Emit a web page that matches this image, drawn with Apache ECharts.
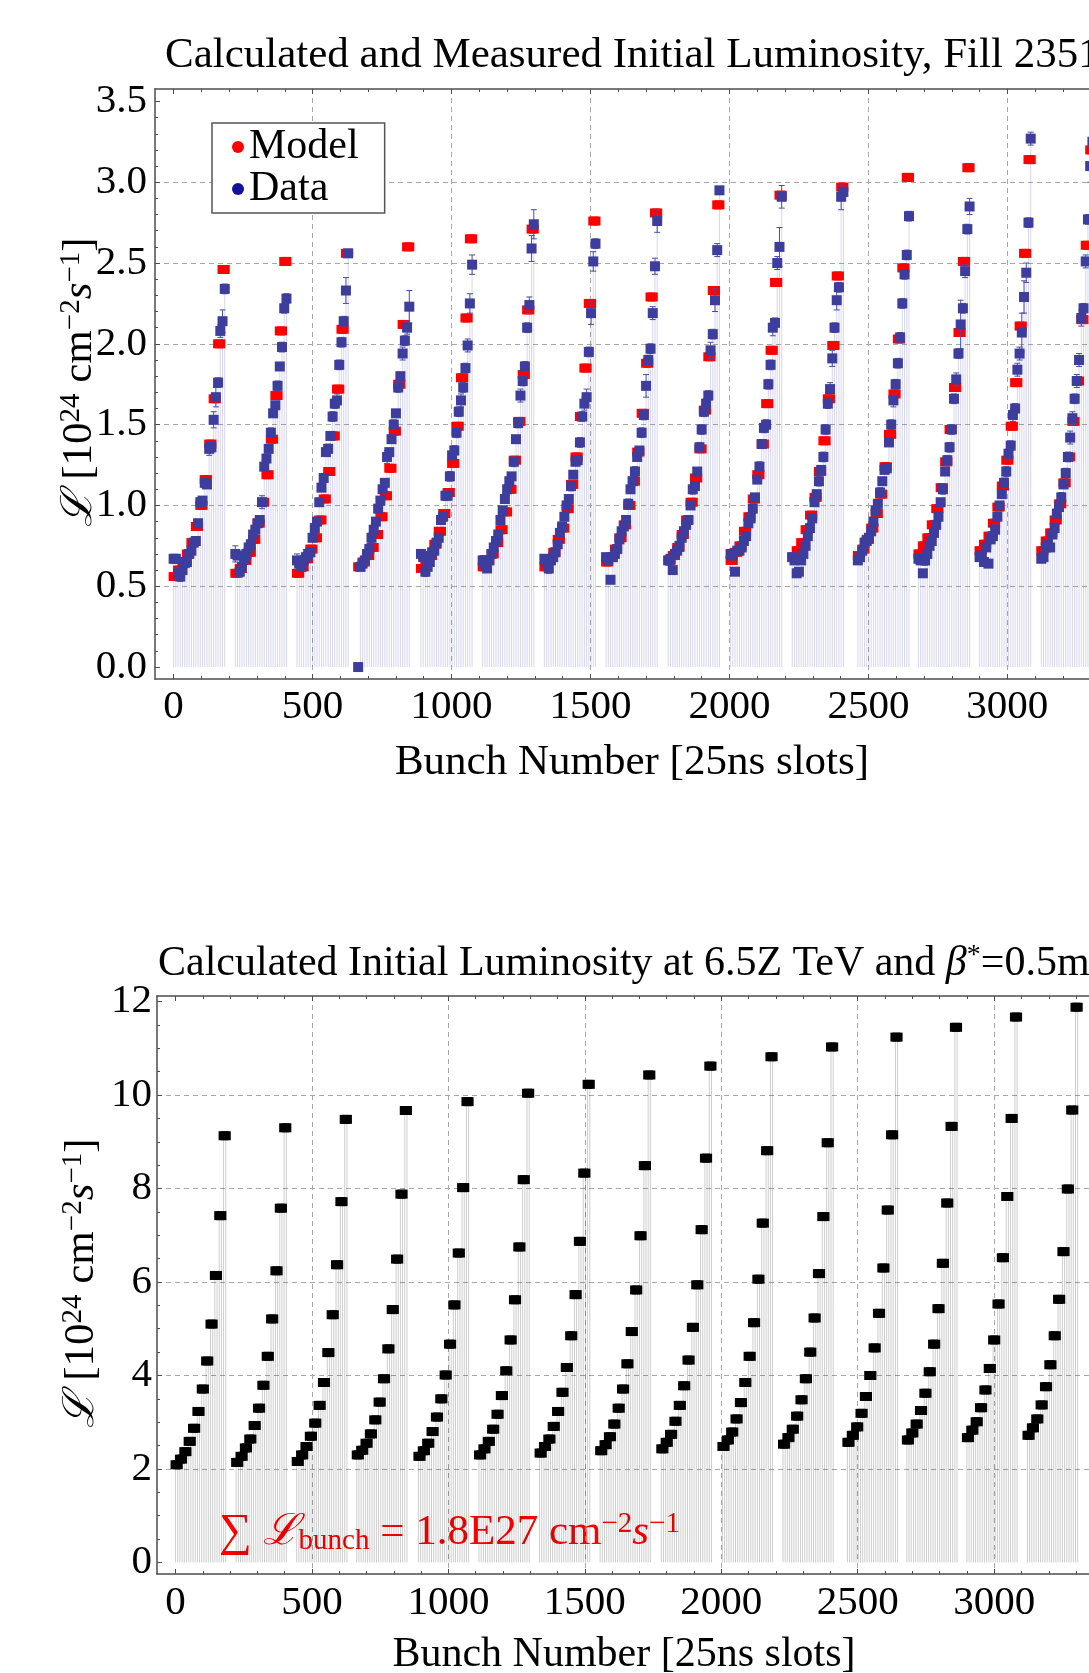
<!DOCTYPE html>
<html>
<head>
<meta charset="utf-8">
<script src="https://cdn.jsdelivr.net/npm/echarts@6/dist/echarts.min.js"></script>
<style>
  html, body { margin: 0; padding: 0; background: #fff; }
  #chart { width: 1089px; height: 1673px; }
</style>
</head>
<body>
<div id="chart"></div>
<script>
// bunch trains: first slot of each train, 24 bunches per train, 8 slots (200 ns) apart
var trainStart = [0, 222, 444, 664, 890, 1112, 1334, 1556, 1780, 2004, 2226, 2462, 2680, 2900, 3122];
var bunchStep = 8;
var bunchesPerTrain = 24;

// Fill 2351 model, one value per pair of bunches [1e24 cm^-2 s^-1]
var modelPairs = [
  [0.56, 0.60, 0.64, 0.70, 0.77, 0.87, 1.00, 1.16, 1.38, 1.66, 2.00, 2.46],
  [0.58, 0.61, 0.66, 0.71, 0.79, 0.89, 1.02, 1.19, 1.41, 1.68, 2.08, 2.51],
  [0.58, 0.62, 0.67, 0.73, 0.80, 0.91, 1.04, 1.21, 1.43, 1.72, 2.09, 2.56],
  [0.62, 0.65, 0.69, 0.74, 0.82, 0.93, 1.06, 1.23, 1.46, 1.75, 2.12, 2.60],
  [0.61, 0.65, 0.69, 0.76, 0.84, 0.95, 1.08, 1.26, 1.49, 1.79, 2.16, 2.65],
  [0.62, 0.66, 0.70, 0.77, 0.85, 0.96, 1.10, 1.28, 1.52, 1.81, 2.21, 2.71],
  [0.62, 0.67, 0.71, 0.79, 0.86, 0.98, 1.13, 1.30, 1.55, 1.85, 2.25, 2.76],
  [0.65, 0.68, 0.73, 0.80, 0.88, 1.00, 1.15, 1.33, 1.57, 1.88, 2.29, 2.81],
  [0.66, 0.69, 0.74, 0.82, 0.91, 1.02, 1.17, 1.35, 1.59, 1.92, 2.33, 2.86],
  [0.66, 0.71, 0.75, 0.84, 0.93, 1.04, 1.19, 1.38, 1.63, 1.96, 2.38, 2.92],
  [0.68, 0.72, 0.77, 0.85, 0.94, 1.05, 1.21, 1.40, 1.66, 1.99, 2.42, 2.97],
  [0.69, 0.73, 0.79, 0.86, 0.95, 1.07, 1.24, 1.44, 1.69, 2.03, 2.47, 3.03],
  [0.70, 0.75, 0.80, 0.88, 0.98, 1.11, 1.27, 1.47, 1.73, 2.07, 2.51, 3.09],
  [0.72, 0.76, 0.81, 0.89, 0.99, 1.12, 1.28, 1.49, 1.76, 2.11, 2.56, 3.14],
  [0.72, 0.78, 0.83, 0.91, 1.01, 1.14, 1.30, 1.52, 1.77, 2.15, 2.61, 3.20]
];

// Fill 2351 measured, one value per bunch
var dataBunch = [
  [0.67, 0.67, 0.58, 0.56, 0.60, 0.65, 0.65, 0.70, 0.72, 0.77, 0.78, 0.89, 1.02, 1.03, 1.14, 1.13, 1.35, 1.36, 1.53, 1.67, 1.76, 2.08, 2.14, 2.34],
  [0.70, 0.69, 0.59, 0.62, 0.67, 0.70, 0.74, 0.76, 0.82, 0.85, 0.89, 0.91, 1.02, 1.24, 1.29, 1.35, 1.45, 1.57, 1.62, 1.74, 1.86, 1.98, 2.22, 2.28],
  [0.66, 0.64, 0.62, 0.66, 0.68, 0.70, 0.71, 0.80, 0.86, 0.90, 1.02, 1.11, 1.17, 1.33, 1.35, 1.43, 1.55, 1.63, 1.65, 1.87, 2.01, 2.14, 2.33, 2.56],
  [0.00, 0.62, 0.64, 0.66, 0.70, 0.73, 0.80, 0.85, 0.90, 0.98, 1.03, 1.10, 1.14, 1.30, 1.33, 1.41, 1.50, 1.57, 1.73, 1.80, 1.94, 2.02, 2.10, 2.23],
  [0.70, 0.68, 0.59, 0.62, 0.65, 0.71, 0.72, 0.77, 0.80, 0.91, 0.93, 1.06, 1.06, 1.18, 1.31, 1.34, 1.45, 1.58, 1.65, 1.73, 1.85, 1.99, 2.25, 2.49],
  [0.66, 0.64, 0.61, 0.66, 0.70, 0.74, 0.78, 0.82, 0.91, 0.97, 1.04, 1.10, 1.15, 1.18, 1.27, 1.41, 1.51, 1.68, 1.77, 1.86, 2.10, 2.24, 2.59, 2.74],
  [0.67, 0.65, 0.61, 0.66, 0.68, 0.71, 0.76, 0.83, 0.87, 0.93, 1.00, 1.04, 1.12, 1.19, 1.27, 1.28, 1.39, 1.55, 1.63, 1.67, 1.95, 2.19, 2.51, 2.62],
  [0.68, 0.66, 0.54, 0.68, 0.70, 0.73, 0.79, 0.84, 0.87, 0.91, 1.01, 1.10, 1.15, 1.21, 1.30, 1.34, 1.45, 1.56, 1.74, 1.90, 1.97, 2.19, 2.48, 2.76],
  [0.66, 0.67, 0.60, 0.70, 0.72, 0.75, 0.80, 0.84, 0.88, 0.91, 1.00, 1.10, 1.12, 1.21, 1.36, 1.47, 1.58, 1.63, 1.68, 1.96, 2.06, 2.27, 2.58, 2.95],
  [0.70, 0.69, 0.59, 0.72, 0.72, 0.74, 0.78, 0.81, 0.89, 0.92, 0.98, 1.05, 1.16, 1.24, 1.38, 1.48, 1.50, 1.75, 1.87, 2.10, 2.13, 2.50, 2.60, 2.91],
  [0.68, 0.66, 0.58, 0.59, 0.66, 0.70, 0.75, 0.81, 0.86, 0.92, 1.02, 1.07, 1.15, 1.22, 1.30, 1.47, 1.63, 1.72, 1.91, 2.10, 2.27, 2.35, 2.91, 2.94],
  [0.66, 0.68, 0.72, 0.77, 0.78, 0.80, 0.84, 0.90, 0.97, 1.01, 1.08, 1.15, 1.22, 1.23, 1.39, 1.50, 1.65, 1.75, 1.88, 2.04, 2.25, 2.43, 2.55, 2.79],
  [0.67, 0.66, 0.58, 0.66, 0.70, 0.75, 0.78, 0.83, 0.88, 0.93, 1.02, 1.10, 1.21, 1.28, 1.36, 1.47, 1.66, 1.78, 1.94, 2.12, 2.22, 2.45, 2.71, 2.85],
  [0.68, 0.69, 0.65, 0.74, 0.64, 0.79, 0.81, 0.85, 0.93, 1.00, 1.07, 1.14, 1.21, 1.32, 1.37, 1.56, 1.60, 1.84, 1.94, 2.07, 2.29, 2.44, 2.75, 3.27],
  [0.67, 0.68, 0.74, 0.76, 0.74, 0.82, 0.86, 0.95, 0.99, 1.05, 1.13, 1.20, 1.30, 1.42, 1.54, 1.66, 1.77, 1.90, 2.16, 2.22, 2.51, 2.77, 3.10, 3.25]
];

// half-length of the measurement error bars
var dataErr = [
  [.02, .02, .02, .03, .02, .02, .02, .02, .02, .02, .02, .02, .02, .02, .03, .02, .04, .03, .05, .06, .03, .04, .07, .03],
  [.05, .02, .03, .02, .02, .02, .02, .02, .02, .02, .02, .02, .04, .02, .02, .02, .03, .02, .02, .03, .02, .03, .03, .03],
  [.04, .02, .02, .02, .02, .02, .02, .02, .03, .02, .02, .02, .02, .02, .03, .02, .03, .03, .04, .03, .03, .03, .08, .02],
  [0, .02, .02, .02, .02, .02, .03, .02, .02, .02, .02, .02, .02, .04, .02, .02, .03, .02, .03, .02, .04, .03, .04, .10],
  [.02, .02, .03, .02, .02, .02, .02, .02, .02, .02, .02, .03, .02, .03, .02, .03, .03, .03, .04, .03, .03, .04, .06, .06],
  [.03, .02, .02, .02, .02, .02, .02, .02, .02, .02, .02, .03, .02, .02, .03, .02, .03, .04, .03, .03, .03, .05, .08, .09],
  [.02, .02, .03, .02, .02, .02, .02, .02, .02, .02, .02, .02, .03, .02, .02, .02, .03, .03, .04, .05, .03, .07, .06, .03],
  [.02, .02, .02, .02, .02, .02, .02, .02, .02, .02, .03, .02, .02, .03, .02, .02, .03, .03, .07, .03, .03, .04, .05, .07],
  [.03, .02, .02, .02, .02, .02, .02, .02, .02, .02, .02, .03, .02, .02, .03, .03, .03, .03, .03, .05, .03, .07, .04, .02],
  [.02, .02, .02, .02, .02, .02, .02, .02, .02, .02, .03, .02, .02, .03, .02, .03, .03, .03, .03, .05, .03, .04, .12, .07],
  [.02, .02, .02, .02, .02, .02, .02, .02, .03, .02, .02, .02, .03, .02, .03, .03, .03, .04, .05, .03, .06, .03, .08, .03],
  [.02, .02, .02, .02, .02, .02, .02, .02, .02, .02, .03, .02, .02, .03, .02, .03, .04, .03, .03, .03, .03, .03, .03, .03],
  [.02, .02, .02, .03, .02, .02, .02, .02, .02, .02, .02, .03, .02, .03, .03, .03, .03, .04, .03, .15, .03, .04, .03, .05],
  [.02, .02, .02, .02, .02, .02, .02, .03, .02, .02, .02, .03, .03, .03, .03, .04, .03, .04, .04, .12, .10, .06, .03, .04],
  [.02, .02, .02, .03, .02, .02, .03, .02, .02, .03, .02, .03, .03, .04, .04, .03, .04, .04, .05, .03, .04, .03, .10, .04]
];

// calculated at 6.5Z TeV, beta* = 0.5 m, one value per pair of bunches
var calcPairs = [
  [2.09, 2.21, 2.37, 2.59, 2.87, 3.23, 3.71, 4.31, 5.10, 6.14, 7.42, 9.13],
  [2.14, 2.27, 2.45, 2.64, 2.93, 3.30, 3.79, 4.41, 5.21, 6.24, 7.58, 9.30],
  [2.16, 2.30, 2.48, 2.70, 2.98, 3.36, 3.85, 4.49, 5.30, 6.37, 7.72, 9.48],
  [2.30, 2.40, 2.55, 2.75, 3.05, 3.43, 3.93, 4.57, 5.41, 6.49, 7.88, 9.67],
  [2.27, 2.39, 2.55, 2.80, 3.11, 3.50, 4.01, 4.67, 5.51, 6.62, 8.02, 9.86],
  [2.30, 2.43, 2.59, 2.85, 3.17, 3.57, 4.10, 4.76, 5.62, 6.75, 8.19, 10.04],
  [2.34, 2.48, 2.64, 2.91, 3.23, 3.64, 4.17, 4.85, 5.73, 6.87, 8.33, 10.23],
  [2.39, 2.52, 2.69, 2.96, 3.30, 3.71, 4.25, 4.94, 5.83, 6.99, 8.49, 10.43],
  [2.43, 2.57, 2.74, 3.02, 3.36, 3.78, 4.33, 5.03, 5.94, 7.12, 8.65, 10.62],
  [2.48, 2.62, 2.79, 3.07, 3.42, 3.85, 4.41, 5.13, 6.06, 7.26, 8.81, 10.82],
  [2.53, 2.67, 2.85, 3.13, 3.48, 3.93, 4.50, 5.23, 6.18, 7.40, 8.98, 11.03],
  [2.57, 2.72, 2.90, 3.19, 3.55, 4.00, 4.59, 5.33, 6.30, 7.54, 9.15, 11.24],
  [2.62, 2.77, 2.96, 3.25, 3.62, 4.08, 4.67, 5.43, 6.40, 7.69, 9.33, 11.45],
  [2.67, 2.83, 3.01, 3.31, 3.69, 4.15, 4.76, 5.53, 6.52, 7.83, 9.50, 11.67],
  [2.72, 2.88, 3.07, 3.37, 3.76, 4.23, 4.85, 5.63, 6.65, 7.99, 9.68, 11.88]
];

// ticks
var xMajor = [0, 500, 1000, 1500, 2000, 2500, 3000, 3500];
var xGrid = [500, 1000, 1500, 2000, 2500, 3000, 3500];
var yMajorTop = [0, 0.5, 1, 1.5, 2, 2.5, 3, 3.5];
var yGridTop = [0.5, 1, 1.5, 2, 2.5, 3];
var yMajorBot = [0, 2, 4, 6, 8, 10, 12];
var yGridBot = [2, 4, 6, 8, 10];

function minorTicks(major, step) {
  var out = [];
  for (var v = major[0]; v < major[major.length - 1]; v += step) {
    var r = Math.round(v * 100) / 100;
    if (major.indexOf(r) < 0) out.push(r);
  }
  return out;
}

var FONT = 'Liberation Serif';
var FRAME = '#4d4d4d';

function axisSet(gi, min, max, sideA, sideB, major, minor, lines, fmt, margin) {
  var off = { show: false };
  function ax(extra) {
    return Object.assign({
      type: 'value', gridIndex: gi, min: min, max: max,
      axisLine: { show: false, onZero: false },
      axisTick: off, axisLabel: off, splitLine: off
    }, extra);
  }
  function tick(vals, len) {
    return { show: true, inside: true, length: len, customValues: vals, lineStyle: { color: FRAME, width: 1 } };
  }
  var line = { show: true, onZero: false, lineStyle: { color: FRAME, width: 1.5 } };
  var list = [
    ax({ position: sideA, axisLine: line, axisTick: tick(major, 5),
      axisLabel: { show: true, customValues: major, margin: margin, formatter: fmt,
        fontFamily: FONT, fontSize: 41, color: '#000' } }),
    ax({ position: sideA, axisTick: tick(minor, 3) }),
    ax({ position: sideA, axisTick: { show: false, customValues: lines },
      splitLine: { show: true, lineStyle: { color: '#a8a8a8', width: 1, type: [5, 4] } } })
  ];
  if (sideB) {
    list.push(ax({ position: sideB, axisLine: line, axisTick: tick(major, 5) }));
    list.push(ax({ position: sideB, axisTick: tick(minor, 3) }));
  }
  return list;
}

// build bunch-by-bunch points
var stemTop = [], modelPts = [], dataPts = [], errPts = [], stemBot = [], calcPts = [];
trainStart.forEach(function (s, i) {
  for (var k = 0; k < bunchesPerTrain; k++) {
    var x = s + bunchStep * k;
    var d = dataBunch[i][k];
    modelPts.push([x, modelPairs[i][k >> 1]]);
    dataPts.push([x, d]);
    stemTop.push([x, d]);
    errPts.push([x, d - dataErr[i][k], d + dataErr[i][k]]);
    stemBot.push([x, calcPairs[i][k >> 1]]);
    calcPts.push([x, calcPairs[i][k >> 1]]);
  }
});

function stemRender(color) {
  return function (params, api) {
    var p = api.coord([api.value(0), api.value(1)]);
    var b = api.coord([api.value(0), 0]);
    return { type: 'line', shape: { x1: p[0], y1: b[1], x2: p[0], y2: p[1] },
      style: { stroke: color, lineWidth: 1 } };
  };
}

function errRender(params, api) {
  var lo = api.coord([api.value(0), api.value(1)]);
  var hi = api.coord([api.value(0), api.value(2)]);
  var st = { stroke: '#4a4aa4', lineWidth: 1 };
  return { type: 'group', children: [
    { type: 'line', shape: { x1: lo[0], y1: lo[1], x2: hi[0], y2: hi[1] }, style: st },
    { type: 'line', shape: { x1: lo[0] - 3, y1: lo[1], x2: lo[0] + 3, y2: lo[1] }, style: st },
    { type: 'line', shape: { x1: hi[0] - 3, y1: hi[1], x2: hi[0] + 3, y2: hi[1] }, style: st }
  ] };
}

var fmt1 = function (v) { return v.toFixed(1); };
var fmt0 = function (v) { return String(v); };

var xAxes = axisSet(0, -67, 3560, 'bottom', 'top', xMajor, minorTicks(xMajor, 100), xGrid, fmt0, 8)
  .concat(axisSet(1, -68, 3560, 'bottom', 'top', xMajor, minorTicks(xMajor, 100), xGrid, fmt0, 9));
var yAxes = axisSet(0, -0.074, 3.577, 'left', null, yMajorTop, minorTicks(yMajorTop, 0.1), yGridTop, fmt1, 8)
  .concat(axisSet(1, -0.248, 12.12, 'left', null, yMajorBot, minorTicks(yMajorBot, 0.5), yGridBot, fmt0, 5));

var txt = { fontFamily: FONT, fontSize: 43, fill: '#000' };
function rich(color, size) {
  var sub = Math.round(size * 0.67);
  return {
    m: { fontFamily: FONT, fontSize: size, fill: color, lineHeight: size + 3, verticalAlign: 'middle' },
    i: { fontFamily: FONT, fontSize: size, fill: color, lineHeight: size + 3, verticalAlign: 'middle', fontStyle: 'italic' },
    s: { fontFamily: FONT, fontSize: size + 3, fill: color, lineHeight: size + 3, verticalAlign: 'middle' },
    p: { fontFamily: FONT, fontSize: sub, fill: color, lineHeight: sub, verticalAlign: 'top', padding: [0, 0, 20, 0] },
    b: { fontFamily: FONT, fontSize: sub, fill: color, lineHeight: sub, verticalAlign: 'bottom', padding: [20, 0, 0, 0] }
  };
}
var yName = '{i|ℒ}{m| [10}{p|24}{m| cm}{p|−2}{i|s}{p|−1}{m|]}';

var chart = echarts.init(document.getElementById('chart'), null, { renderer: 'canvas' });
chart.setOption({
  animation: false,
  backgroundColor: '#fff',
  grid: [
    { left: 155, top: 89, width: 1008, height: 590, outerBoundsMode: 'none', containLabel: false },
    { left: 157, top: 996, width: 990, height: 578, outerBoundsMode: 'none', containLabel: false }
  ],
  xAxis: xAxes,
  yAxis: yAxes,
  legend: {
    left: 212, top: 123, orient: 'vertical', padding: [3, 26, 3, 20], itemGap: 0,
    itemWidth: 12, itemHeight: 12, icon: 'circle', selectedMode: false,
    borderColor: '#555', borderWidth: 1.5, backgroundColor: '#fff',
    textStyle: { fontFamily: FONT, fontSize: 42, color: '#000', lineHeight: 38 },
    data: [
      { name: 'Model', itemStyle: { color: '#ff0000' } },
      { name: 'Data', itemStyle: { color: '#12129a' } }
    ]
  },
  graphic: [
    { type: 'text', x: 165, y: 56, style: Object.assign({ text: 'Calculated and Measured Initial Luminosity, Fill 2351', align: 'left', verticalAlign: 'middle' }, txt) },
    { type: 'text', x: 632, y: 763, style: Object.assign({ text: 'Bunch Number [25ns slots]', align: 'center', verticalAlign: 'middle' }, txt) },
    { type: 'text', x: 80, y: 382, rotation: Math.PI / 2, style: Object.assign({ text: yName, align: 'center', verticalAlign: 'middle', rich: rich('#000', 43) }, txt) },
    { type: 'text', x: 158, y: 964, style: Object.assign({}, txt, { fontSize: 42, text: '{m|Calculated Initial Luminosity at 6.5Z TeV and }{i|β}{p|*}{m|=0.5m}', align: 'left', verticalAlign: 'middle', rich: rich('#000', 42) }) },
    { type: 'text', x: 624, y: 1655, style: Object.assign({}, txt, { fontSize: 42, text: 'Bunch Number [25ns slots]', align: 'center', verticalAlign: 'middle' }) },
    { type: 'text', x: 82, y: 1283, rotation: Math.PI / 2, style: Object.assign({ text: yName, align: 'center', verticalAlign: 'middle', rich: rich('#000', 43) }, txt) },
    { type: 'text', x: 219, y: 1533, style: Object.assign({}, txt, { fill: '#ff0000', text: '{s|∑} {i|ℒ}{b|bunch}{m| = 1.8E27 cm}{p|−2}{i|s}{p|−1}', align: 'left', verticalAlign: 'middle', rich: rich('#ff0000', 43) }) }
  ],
  series: [
    { type: 'custom', name: 'fillTop', xAxisIndex: 0, yAxisIndex: 0, silent: true, z: 2,
      renderItem: stemRender('rgba(70,70,175,0.22)'), encode: { x: 0, y: 1 }, data: stemTop },
    { type: 'scatter', name: 'Model', xAxisIndex: 0, yAxisIndex: 0, z: 3,
      symbol: 'rect', symbolSize: [10, 9], itemStyle: { color: '#ff0000', opacity: 1 }, data: modelPts },
    { type: 'custom', name: 'err', xAxisIndex: 0, yAxisIndex: 0, silent: true, z: 4,
      renderItem: errRender, encode: { x: 0, y: [1, 2] }, data: errPts },
    { type: 'scatter', name: 'Data', xAxisIndex: 0, yAxisIndex: 0, z: 5,
      symbol: 'rect', symbolSize: [10, 10], itemStyle: { color: '#3d3d9d', opacity: 1 }, data: dataPts },
    { type: 'custom', name: 'fillBot', xAxisIndex: 5, yAxisIndex: 3, silent: true, z: 2,
      renderItem: stemRender('rgba(0,0,0,0.2)'), encode: { x: 0, y: 1 }, data: stemBot },
    { type: 'scatter', name: 'Calc', xAxisIndex: 5, yAxisIndex: 3, z: 3,
      symbol: 'rect', symbolSize: [10, 9], itemStyle: { color: '#000', opacity: 1 }, data: calcPts }
  ]
});
</script>
</body>
</html>
